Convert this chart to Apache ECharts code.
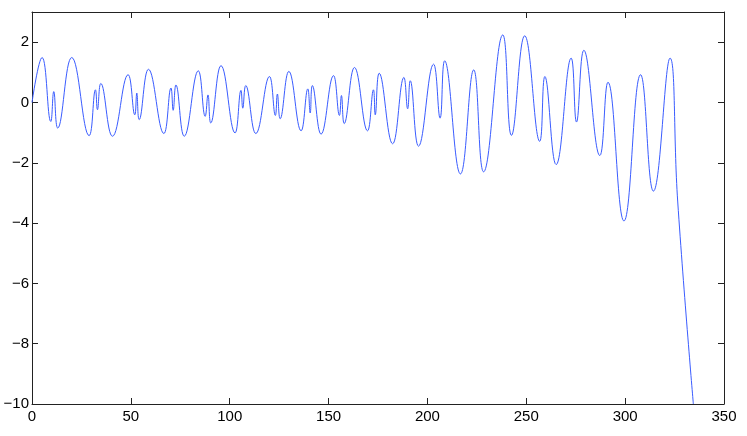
<!DOCTYPE html>
<html>
<head>
<meta charset="utf-8">
<script src="https://cdn.jsdelivr.net/npm/echarts@6/dist/echarts.min.js"></script>
<style>
html,body{margin:0;padding:0;background:#fff;}
#chart{width:747px;height:436px;}
</style>
</head>
<body>
<div id="chart"></div>
<script>
// Key points (x, y)
const xValues = [0, 5.1, 9.5, 11.0, 13.0, 20.1, 28.9, 32.1, 33.1, 34.8, 40.7, 48.6, 52.0, 53.0, 54.2, 58.9, 66.7, 70.3, 71.4, 72.8, 77.0, 84.1, 87.6, 89.0, 90.4, 95.6, 102.7, 105.7, 106.6, 108.1, 113.2, 120.1, 123.1, 124.1, 125.5, 129.9, 136.1, 139.5, 140.7, 141.8, 146.2, 152.5, 155.5, 156.5, 157.9, 163.1, 169.7, 172.7, 173.6, 175.6, 182.4, 188.1, 190.0, 191.3, 195.5, 203.1, 206.4, 208.7, 216.7, 223.4, 228.4, 238.1, 242.5, 249.2, 256.8, 259.4, 265.1, 272.7, 275.4, 279.1, 287.2, 291.3, 299.4, 307.8, 314.3, 322.7, 326.6, 334.5];
const yValues = [0.0, 1.49, -0.63, 0.36, -0.85, 1.49, -1.10, 0.42, -0.24, 0.63, -1.12, 0.92, -0.41, 0.31, -0.57, 1.10, -1.03, 0.48, -0.26, 0.58, -1.12, 1.05, -0.46, 0.25, -0.68, 1.22, -1.01, 0.40, -0.19, 0.56, -1.03, 0.86, -0.43, 0.28, -0.54, 1.03, -0.94, 0.45, -0.35, 0.56, -1.05, 0.89, -0.43, 0.23, -0.70, 1.16, -0.94, 0.42, -0.41, 0.97, -1.37, 0.83, -0.21, 0.72, -1.45, 1.27, -0.52, 1.38, -2.37, 1.08, -2.30, 2.24, -1.09, 2.21, -1.29, 0.86, -2.06, 1.47, -0.65, 1.73, -1.76, 0.67, -3.93, 0.92, -2.94, 1.47, -3.3, -10];
const xTicks = [0, 50, 100, 150, 200, 250, 300, 350];
const yTicks = [-10, -8, -6, -4, -2, 0, 2];

const data = xValues.map((x, i) => [x, yValues[i]]);
const axisColor = '#222';
const font = {fontFamily: 'Liberation Sans, Arial, sans-serif', fontSize: 15, color: '#000'};
const fmt = v => String(v).replace('-', '\u2212');

const chart = echarts.init(document.getElementById('chart'));
chart.setOption({
  animation: false,
  backgroundColor: '#fff',
  grid: {left: 32, right: 23, top: 12, bottom: 32},
  xAxis: [
    {type: 'value', min: xTicks[0], max: xTicks[xTicks.length - 1], interval: 50, position: 'bottom',
     axisLine: {onZero: false, lineStyle: {color: axisColor, width: 1}},
     axisTick: {inside: true, length: 6, lineStyle: {color: axisColor}},
     axisLabel: Object.assign({margin: 5, formatter: fmt}, font),
     splitLine: {show: false}},
    {type: 'value', min: xTicks[0], max: xTicks[xTicks.length - 1], interval: 50, position: 'top',
     axisLine: {onZero: false, lineStyle: {color: axisColor, width: 1}},
     axisTick: {inside: true, length: 6, lineStyle: {color: axisColor}},
     axisLabel: {show: false}, splitLine: {show: false}}
  ],
  yAxis: [
    {type: 'value', min: yTicks[0], max: 3, interval: 2, position: 'left',
     axisLine: {show: true, onZero: false, lineStyle: {color: axisColor, width: 1}},
     axisTick: {show: true, inside: true, length: 6, lineStyle: {color: axisColor},
       customValues: yTicks},
     axisLabel: Object.assign({margin: 3, formatter: fmt, customValues: yTicks}, font),
     splitLine: {show: false}},
    {type: 'value', min: yTicks[0], max: 3, interval: 2, position: 'right',
     axisLine: {show: true, onZero: false, lineStyle: {color: axisColor, width: 1}},
     axisTick: {show: true, inside: true, length: 6, lineStyle: {color: axisColor},
       customValues: yTicks},
     axisLabel: {show: false}, splitLine: {show: false}}
  ],
  series: [{
    type: 'line',
    data: data,
    xAxisIndex: 0, yAxisIndex: 0,
    smooth: 0.45,
    showSymbol: false,
    lineStyle: {color: '#3a5cff', width: 1},
    clip: true
  }]
});
</script>
</body>
</html>
